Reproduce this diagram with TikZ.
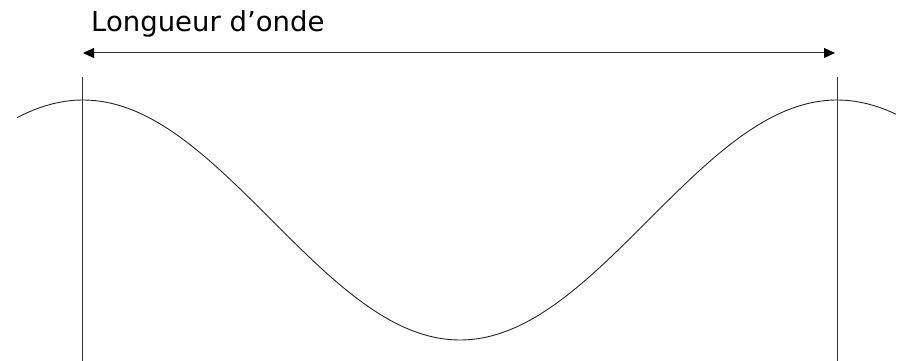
\documentclass[tikz,border=0pt]{standalone}
\usepackage{fontspec}
\setmainfont{DejaVu Sans}
\usetikzlibrary{arrows.meta}
\begin{document}
\begin{tikzpicture}[x=1pt,y=-1pt,
  thinline/.style={line width=1pt, draw=black!80},
  wave/.style={line width=0.9pt, draw=black!85},
  tip/.style={Triangle[length=11pt,width=10pt,fill=black,color=black]},
  label/.style={anchor=base west, inner sep=0pt, font=\fontsize{27.5}{32}\selectfont}]
\useasboundingbox[fill=white] (0,0) rectangle (903,361);
\node[label] (title) at (91,32) {Longueur d’onde};
\coordinate (al) at (83,53);
\coordinate (ar) at (835,53);
\draw[thinline, {Triangle[length=11pt,width=10pt,color=black]}-{Triangle[length=11pt,width=10pt,color=black]}] (al) -- (ar);
\coordinate (lt) at (82.5,77);
\coordinate (lb) at (82.5,361);
\coordinate (rt) at (837,77);
\coordinate (rb) at (837,361);
\draw[thinline] (lt) -- (lb);
\draw[thinline] (rt) -- (rb);
\draw[wave, smooth, samples=200, domain=17:896] plot (\x, {220-120*cos(0.477454*(\x-83))});
\end{tikzpicture}
\end{document}
